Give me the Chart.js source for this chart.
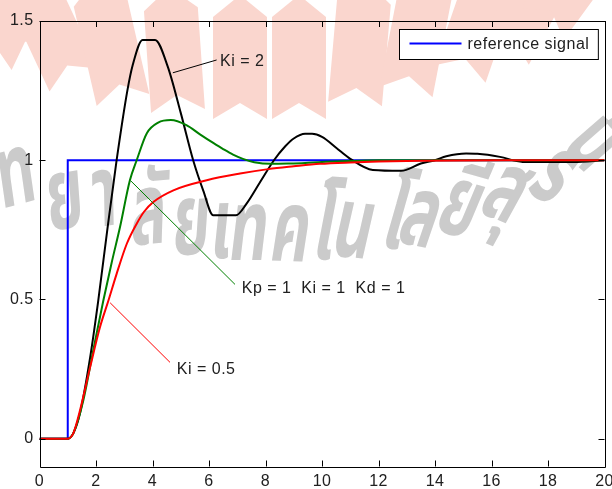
<!DOCTYPE html>
<html>
<head>
<meta charset="utf-8">
<script src="https://cdn.jsdelivr.net/npm/chart.js@4.4.1/dist/chart.umd.min.js"></script>
<style>
html, body { margin: 0; padding: 0; background: #fff; }
</style>
</head>
<body>
<canvas id="pid_chart" width="612" height="489"></canvas>
<script>
// step responses (time in s)
const ref_t = [0, 1, 1, 20]
const ref_y = [0, 0, 1, 1]

const ki2_t = [0, 1, 1.2, 1.43, 1.79, 2.08, 2.4, 2.73, 3.11, 3.3, 3.65, 4.09, 4.54, 5.0, 5.44, 5.8, 6.15, 6.95, 7.33, 7.8, 8.3, 8.7, 9.0, 9.4, 9.65, 10.0, 10.5, 11.0, 11.8, 12.8, 13.5, 14.0, 14.4, 15.1, 15.5, 16.3, 17.1, 18.9, 20]
const ki2_y = [0, 0, 0.02, 0.09, 0.29, 0.496, 0.75, 1.0, 1.25, 1.342, 1.432, 1.432, 1.336, 1.17, 1.0, 0.89, 0.802, 0.802, 0.844, 0.92, 1.0, 1.05, 1.078, 1.095, 1.095, 1.084, 1.045, 1.005, 0.965, 0.962, 0.988, 1.0, 1.014, 1.024, 1.023, 1.012, 0.994, 0.994, 1.0]

const ki1_t = [0, 1, 1.2, 1.55, 1.9, 2.26, 2.55, 2.85, 3.2, 3.44, 3.8, 4.2, 4.65, 5.2, 5.68, 6.15, 6.5, 6.85, 7.2, 7.6, 8.2, 8.8, 9.4, 10, 11, 12, 20]
const ki1_y = [0, 0, 0.02, 0.137, 0.316, 0.496, 0.63, 0.76, 0.928, 1.0, 1.097, 1.135, 1.144, 1.126, 1.093, 1.062, 1.04, 1.02, 1.005, 0.993, 0.987, 0.988, 0.99, 0.994, 0.997, 1.0, 1.0]

const ki05_t = [0, 1, 1.2, 1.43, 1.79, 2.14, 2.44, 2.73, 3.09, 3.44, 3.7, 4.03, 4.74, 5.92, 7.1, 8.1, 9.0, 9.93, 11.0, 12.0, 13.5, 16.5, 20]
const ki05_y = [0, 0, 0.02, 0.1, 0.256, 0.4, 0.496, 0.592, 0.7, 0.772, 0.815, 0.85, 0.892, 0.928, 0.952, 0.968, 0.978, 0.987, 0.992, 0.995, 0.998, 1.0, 1.0]

const x_ticks = [0, 2, 4, 6, 8, 10, 12, 14, 16, 18, 20]
const y_ticks = [0, 0.5, 1, 1.5]

// text labels with their pointer lines, in data units
const callouts = [
	{ text: 'Ki = 2', color: '#000000', from: [4.72, 1.314], to: [6.27, 1.36], at: [6.39, 1.356] },
	{ text: 'Kp = 1  Ki = 1  Kd = 1', color: '#008000', from: [3.23, 0.926], to: [6.92, 0.554], at: [7.16, 0.54] },
	{ text: 'Ki = 0.5', color: '#ff0000', from: [2.5, 0.488], to: [4.62, 0.274], at: [4.86, 0.248] },
]

// background watermark: logo rays [x, y, tilt] and curved university name
const logo_rays = [
	[34, 55, -34], [74, 80, -25], [123, 100, -13], [178, 111, -4], [240, 119, 0],
	[299, 119, 0], [355, 104, 5], [406, 92, 11], [460, 74, 19], [505, 52, 28], [542, 24, 36],
]
const name_glyphs = [
	['วิ', -22, 198, -18], ['ท', 20, 204, -15], ['ย', 67, 228, -11], ['า', 105, 226, -8],
	['ลั', 148, 244, -5], ['ย', 190, 254, -3], ['เ', 219, 258, -1], ['ท', 246, 260, 0],
	['ค', 287, 261, 2], ['โ', 320, 259, 4], ['น', 348, 257, 6], ['โ', 388, 248, 9],
	['ล', 412, 245, 12], ['ยี', 450, 234, 16], ['สุ', 493, 218, 22], ['ร', 538, 198, 30],
	['น', 573, 162, 42], ['า', 606, 122, 50],
]

const font_family = '"Liberation Sans", Arial, sans-serif'

function toPoints(t, y) {
	return t.map((v, i) => ({ x: v, y: y[i] }))
}

const background_plugin = {
	id: 'background_plugin',
	beforeDraw(chart) {
		const ctx = chart.ctx
		ctx.save()
		ctx.fillStyle = '#ffffff'
		ctx.fillRect(0, 0, chart.width, chart.height)
		ctx.fillStyle = '#fad6ce'
		for (const [bx, by, tilt] of logo_rays) {
			ctx.save()
			ctx.translate(bx, by)
			ctx.rotate((tilt * Math.PI) / 180)
			ctx.beginPath()
			ctx.moveTo(-27, 0)
			ctx.lineTo(0, -16)
			ctx.lineTo(27, 0)
			ctx.lineTo(27, -102)
			ctx.lineTo(0, -124)
			ctx.lineTo(-27, -102)
			ctx.closePath()
			ctx.fill()
			ctx.restore()
		}
		ctx.fillStyle = '#cbcbcb'
		ctx.font = 'bold 100px "Noto Sans Thai", "Noto Sans", sans-serif'
		ctx.textAlign = 'center'
		ctx.textBaseline = 'alphabetic'
		for (const [g, gx, gy, rot] of name_glyphs) {
			ctx.save()
			ctx.translate(gx, gy)
			ctx.rotate((rot * Math.PI) / 180)
			ctx.transform(0.6, 0, -0.12, 1, 0, 0)
			ctx.fillText(g, 0, 0)
			ctx.restore()
		}
		ctx.restore()
		// the original text is set a little wider than Arial
		ctx.letterSpacing = '0.4px'
	},
}

const frame_plugin = {
	id: 'frame_plugin',
	afterDatasetsDraw(chart) {
		const ctx = chart.ctx
		const a = chart.chartArea
		const xs = chart.scales.x
		const ys = chart.scales.y
		ctx.save()
		ctx.letterSpacing = '0.5px'

		// callouts
		ctx.font = '16px ' + font_family
		ctx.textBaseline = 'middle'
		ctx.textAlign = 'left'
		for (const c of callouts) {
			ctx.strokeStyle = c.color
			ctx.lineWidth = 1
			ctx.beginPath()
			ctx.moveTo(xs.getPixelForValue(c.from[0]), ys.getPixelForValue(c.from[1]))
			ctx.lineTo(xs.getPixelForValue(c.to[0]), ys.getPixelForValue(c.to[1]))
			ctx.stroke()
			ctx.fillStyle = '#202020'
			ctx.fillText(c.text, xs.getPixelForValue(c.at[0]), ys.getPixelForValue(c.at[1]))
		}

		// box and inward ticks
		ctx.strokeStyle = '#000000'
		ctx.lineWidth = 1
		ctx.beginPath()
		ctx.rect(Math.round(a.left) + 0.5, Math.round(a.top) + 0.5, Math.round(a.right - a.left), Math.round(a.bottom - a.top))
		for (const v of x_ticks) {
			const px = Math.round(xs.getPixelForValue(v)) + 0.5
			ctx.moveTo(px, a.bottom)
			ctx.lineTo(px, a.bottom - 6)
			ctx.moveTo(px, a.top)
			ctx.lineTo(px, a.top + 6)
		}
		for (const v of y_ticks) {
			const py = Math.round(ys.getPixelForValue(v)) + 0.5
			ctx.moveTo(a.left, py)
			ctx.lineTo(a.left + 6, py)
			ctx.moveTo(a.right, py)
			ctx.lineTo(a.right - 6, py)
		}
		ctx.stroke()

		// legend, top right inside the axes
		const label = chart.data.datasets[0].label
		const tw = ctx.measureText(label).width
		const w = 68 + tw + 9
		const h = 30
		const lx = Math.round(a.right - 7 - w) + 0.5
		const ly = Math.round(a.top + 8) + 0.5
		ctx.fillStyle = '#ffffff'
		ctx.fillRect(lx, ly, w, h)
		ctx.strokeStyle = '#000000'
		ctx.strokeRect(lx, ly, w, h)
		ctx.strokeStyle = chart.data.datasets[0].borderColor
		ctx.lineWidth = 2
		ctx.beginPath()
		ctx.moveTo(lx + 10, ly + 14)
		ctx.lineTo(lx + 62, ly + 14)
		ctx.stroke()
		ctx.fillStyle = '#202020'
		ctx.fillText(label, lx + 68, ly + 15)
		ctx.restore()
	},
}

// eslint-disable-next-line
const pid_chart = new Chart(document.getElementById('pid_chart'), {
	type: 'line',
	data: {
		datasets: [
			{
				label: 'reference signal',
				data: toPoints(ref_t, ref_y),
				borderColor: '#0000ff',
				borderWidth: 2,
				tension: 0,
				order: 3,
			},
			{
				label: 'Ki = 2',
				data: toPoints(ki2_t, ki2_y),
				borderColor: '#000000',
				borderWidth: 2,
				cubicInterpolationMode: 'monotone',
				order: 2,
			},
			{
				label: 'Kp = 1  Ki = 1  Kd = 1',
				data: toPoints(ki1_t, ki1_y),
				borderColor: '#008000',
				borderWidth: 2,
				cubicInterpolationMode: 'monotone',
				order: 1,
			},
			{
				label: 'Ki = 0.5',
				data: toPoints(ki05_t, ki05_y),
				borderColor: '#ff0000',
				borderWidth: 2,
				cubicInterpolationMode: 'monotone',
				order: 0,
			},
		],
	},
	options: {
		responsive: false,
		animation: false,
		devicePixelRatio: 1,
		elements: { point: { radius: 0 }, line: { fill: false } },
		layout: { padding: { top: 21, right: 7.5, left: 0, bottom: 0 } },
		plugins: {
			legend: { display: false },
			tooltip: { enabled: false },
		},
		scales: {
			x: {
				type: 'linear',
				min: 0,
				max: 20,
				grid: { display: false, drawTicks: false },
				border: { display: false },
				afterBuildTicks: (scale) => {
					scale.ticks = x_ticks.map((v) => ({ value: v }))
				},
				afterFit: (scale) => {
					scale.height = 22.5
					scale.paddingLeft = 0
					scale.paddingRight = 0
				},
				ticks: {
					autoSkip: false,
					maxRotation: 0,
					padding: 5,
					color: '#202020',
					font: { family: font_family, size: 16 },
				},
			},
			y: {
				type: 'linear',
				min: -0.1,
				max: 1.5,
				grid: { display: false, drawTicks: false },
				border: { display: false },
				afterBuildTicks: (scale) => {
					scale.ticks = y_ticks.map((v) => ({ value: v }))
				},
				afterFit: (scale) => {
					scale.width = 39.5
					scale.paddingTop = 0
					scale.paddingBottom = 0
				},
				ticks: {
					padding: 6,
					color: '#202020',
					font: { family: font_family, size: 16 },
					callback: (v) => String(v),
				},
			},
		},
	},
	plugins: [background_plugin, frame_plugin],
})
</script>
</body>
</html>
